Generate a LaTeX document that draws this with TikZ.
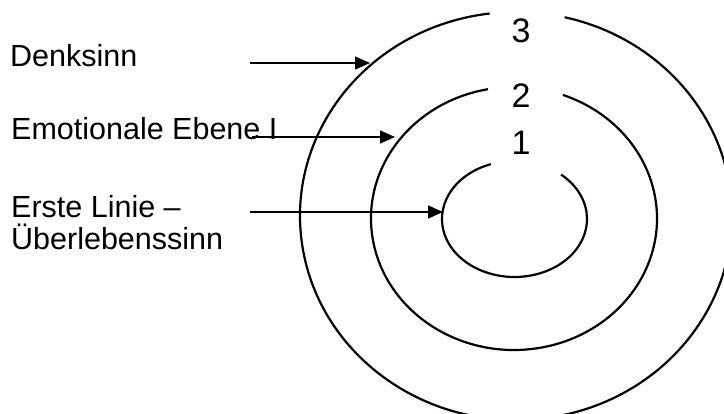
\documentclass[tikz,border=0pt]{standalone}
\usepackage{fontspec}
\setmainfont{Liberation Sans}
\usetikzlibrary{arrows.meta}
\begin{document}
\begin{tikzpicture}[x=1pt,y=1pt,
  ring/.style={line width=2.2pt},
  pointer/.style={line width=1.5pt,-{Triangle[length=15pt,width=13pt]}},
  lbl/.style={anchor=base west,inner sep=0pt,font=\fontsize{30.5}{32}\selectfont},
  num/.style={anchor=base,inner sep=0pt,font=\fontsize{34}{36}\selectfont}]
\useasboundingbox (0,0) rectangle (724,414);
% rings
\draw[ring] (516,198) ++(97:216 and 204) arc[start angle=97,end angle=437,x radius=216,y radius=204];
\draw[ring] (514,195.5) ++(100.5:143 and 131.5) arc[start angle=100.5,end angle=430,x radius=143,y radius=131.5];
\draw[ring] (514.5,195) ++(109:72.5 and 58) arc[start angle=109,end angle=410,x radius=72.5,y radius=58];
% numbers
\node[num] (n3) at (521,371) {3};
\node[num] (n2) at (521,306) {2};
\node[num] (n1) at (521,259) {1};
% labels
\node[lbl] (denk) at (10,347) {Denksinn};
\node[lbl] (emo) at (11,274) {Emotionale Ebene I};
\node[lbl] (erste1) at (11,196) {Erste Linie –};
\node[lbl] (erste2) at (11,164) {Überlebenssinn};
% arrow ends
\coordinate (a1s) at (250,351);
\coordinate (a1e) at (370,351);
\coordinate (a2s) at (252,277);
\coordinate (a2e) at (395,277);
\coordinate (a3s) at (250,202);
\coordinate (a3e) at (443,202);
\draw[pointer] (a1s) -- (a1e);
\draw[pointer] (a2s) -- (a2e);
\draw[pointer] (a3s) -- (a3e);
\end{tikzpicture}
\end{document}
